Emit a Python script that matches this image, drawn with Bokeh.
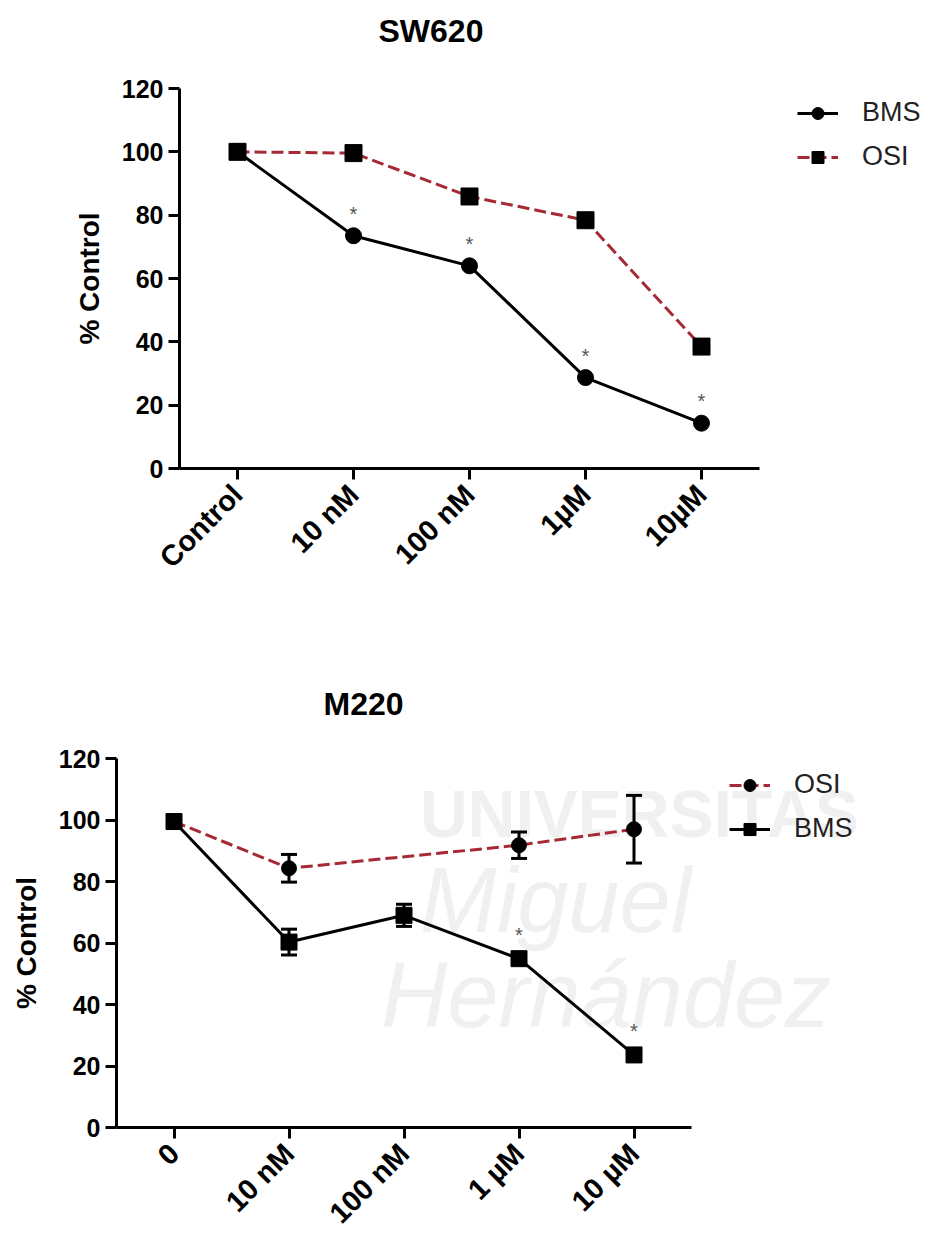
import math
from bokeh.plotting import figure
from bokeh.models import (Range1d, FixedTicker, Legend, LegendItem, Label, Title,
                          ColumnDataSource, Whisker, TeeHead)
from bokeh.embed import file_html
from bokeh.resources import INLINE
from bokeh.core.properties import value

# ---------------- data ----------------
# SW620 panel
sw620_doses = ["Control", "10 nM", "100 nM", "1\u00b5M", "10\u00b5M"]
sw620_bms = [100.0, 73.5, 64.0, 28.7, 14.3]
sw620_osi = [100.0, 99.6, 85.9, 78.4, 38.5]
sw620_bms_sig = [False, True, True, True, True]

# M220 panel
m220_doses = ["0", "10 nM", "100 nM", "1 \u00b5M", "10 \u00b5M"]
m220_osi = [99.5, 84.3, None, 91.8, 97.0]
m220_osi_err = [0.0, 4.5, None, 4.3, 11.0]
m220_bms = [99.5, 60.3, 69.0, 54.9, 23.6]
m220_bms_err = [0.0, 4.2, 3.6, 0.0, 0.0]
m220_bms_sig = [False, False, False, True, True]

y_ticks = [0, 20, 40, 60, 80, 100, 120]

FONT = "Liberation Sans"
RED = "#a52a35"


def base_fig(doses, height, left, top, bottom, px_per_cat, title, title_offset,
             spacer_standoff):
    width = 931
    right = 0
    frame_w = width - left - right
    x_end = -0.5 + frame_w / px_per_cat
    p = figure(x_range=Range1d(-0.5, x_end), y_range=Range1d(0, 120),
               width=width, height=height, output_backend="svg",
               toolbar_location=None, min_border_left=left,
               min_border_right=right, min_border_top=top,
               min_border_bottom=bottom)
    # spacer next to the frame, then the real title above it
    p.add_layout(Title(text=" ", text_font_size="10px", standoff=spacer_standoff,
                       text_color="white"), "above")
    p.add_layout(Title(text=title, align="left", offset=title_offset,
                       text_font=FONT, text_font_style="bold",
                       text_font_size="32px", text_color="black", standoff=0),
                 "above")
    p.outline_line_color = None
    p.grid.visible = False
    for ax in (p.xaxis, p.yaxis):
        ax.axis_line_width = 3
        ax.axis_line_color = "black"
        ax.major_tick_line_width = 3
        ax.major_tick_line_color = "black"
        ax.major_tick_out = 11
        ax.major_tick_in = 0
        ax.minor_tick_line_color = None
        ax.major_label_text_font = FONT
        ax.major_label_text_font_style = "bold"
        ax.major_label_text_color = "black"
    p.xaxis.bounds = (-0.5, len(doses) - 0.5)
    p.xaxis.ticker = FixedTicker(ticks=list(range(len(doses))))
    p.xaxis.major_label_overrides = {i: d for i, d in enumerate(doses)}
    p.xaxis.major_label_text_font_size = "29px"
    p.xaxis.major_label_orientation = math.pi / 4
    p.xaxis.major_label_standoff = 10
    p.yaxis.ticker = FixedTicker(ticks=y_ticks)
    p.yaxis.major_label_text_font_size = "25px"
    p.yaxis.major_label_standoff = 5
    p.yaxis.axis_label = "% Control"
    p.yaxis.axis_label_text_font = FONT
    p.yaxis.axis_label_text_font_style = "bold"
    p.yaxis.axis_label_text_font_size = "28px"
    p.yaxis.axis_label_text_color = "black"
    p.yaxis.axis_label_standoff = 14
    return p


def make_legend(items, loc):
    return Legend(items=items, location=loc, padding=0, margin=0, spacing=13,
                  glyph_width=41, glyph_height=30, label_height=30,
                  label_standoff=24, label_text_font=FONT,
                  label_text_font_size="27px", label_text_color="#222222",
                  border_line_color=None, background_fill_alpha=0)


def star_source(xs_all, vals, sig):
    xs = [x for x, s in zip(xs_all, sig) if s]
    ys = [v for v, s in zip(vals, sig) if s]
    return ColumnDataSource(dict(x=xs, y=ys, t=["*"] * len(xs)))


# ---------------- SW620 ----------------
x1 = list(range(len(sw620_doses)))
p1 = base_fig(sw620_doses, 648, 179, 88, 180, 116, "SW620", 199, 27)
bms_line1 = p1.line(x1, sw620_bms, line_color="black", line_width=3)
osi_line1 = p1.line(x1, sw620_osi, line_color=RED, line_width=3, line_dash="12 5")
bms_pts1 = p1.scatter(x1, sw620_bms, marker="circle", size=16,
                      fill_color="black", line_color="black")
osi_pts1 = p1.scatter(x1, sw620_osi, marker="square", size=17,
                      fill_color="black", line_color="black")
p1.text(x="x", y="y", text="t", source=star_source(x1, sw620_bms, sw620_bms_sig),
        text_align="center", text_baseline="middle", y_offset=-22,
        text_font=value(FONT), text_font_size="20px", text_color="#555555")
p1.add_layout(make_legend([LegendItem(label="BMS", renderers=[bms_line1, bms_pts1]),
                           LegendItem(label="OSI", renderers=[osi_line1, osi_pts1])],
                          (618, 296)))

# ---------------- M220 ----------------
x2 = list(range(len(m220_doses)))
p2 = base_fig(m220_doses, 595, 116, 110, 101, 115, "M220", 207, 24)

# faint watermark of the source
for txt, xx, yy, size, style in [("UNIVERSITAS", 2.14, 102, "66px", "bold"),
                                 ("Miguel", 2.14, 74, "92px", "italic"),
                                 ("Hern\u00e1ndez", 1.80, 43, "92px", "italic")]:
    p2.add_layout(Label(x=xx, y=yy, text=txt, text_align="left",
                        text_baseline="alphabetic", text_font=FONT,
                        text_font_style=style, text_font_size=size,
                        text_color="#f0f0f0", level="underlay"))

osi_x = [x for x, v in zip(x2, m220_osi) if v is not None]
osi_y = [v for v in m220_osi if v is not None]
osi_e = [e for e in m220_osi_err if e is not None]

osi_line2 = p2.line(osi_x, osi_y, line_color=RED, line_width=3, line_dash="12 5")
bms_line2 = p2.line(x2, m220_bms, line_color="black", line_width=3)

osi_err_src = ColumnDataSource(dict(x=osi_x, lo=[v - e for v, e in zip(osi_y, osi_e)],
                                    hi=[v + e for v, e in zip(osi_y, osi_e)]))
bms_err_src = ColumnDataSource(dict(x=x2,
                                    lo=[v - e for v, e in zip(m220_bms, m220_bms_err)],
                                    hi=[v + e for v, e in zip(m220_bms, m220_bms_err)]))
for src in (osi_err_src, bms_err_src):
    p2.add_layout(Whisker(base="x", lower="lo", upper="hi", source=src,
                          line_width=3, line_color="black",
                          upper_head=TeeHead(size=16, line_width=3, line_color="black"),
                          lower_head=TeeHead(size=16, line_width=3, line_color="black")))

osi_pts2 = p2.scatter(osi_x, osi_y, marker="circle", size=15,
                      fill_color="black", line_color="black")
bms_pts2 = p2.scatter(x2, m220_bms, marker="square", size=16,
                      fill_color="black", line_color="black")
p2.text(x="x", y="y", text="t", source=star_source(x2, m220_bms, m220_bms_sig),
        text_align="center", text_baseline="middle", y_offset=-24,
        text_font=value(FONT), text_font_size="20px", text_color="#555555")
p2.add_layout(make_legend([LegendItem(label="OSI", renderers=[osi_line2, osi_pts2]),
                           LegendItem(label="BMS", renderers=[bms_line2, bms_pts2])],
                          (613, 283)))

open("out.html", "w").write(file_html([p1, p2], INLINE))
